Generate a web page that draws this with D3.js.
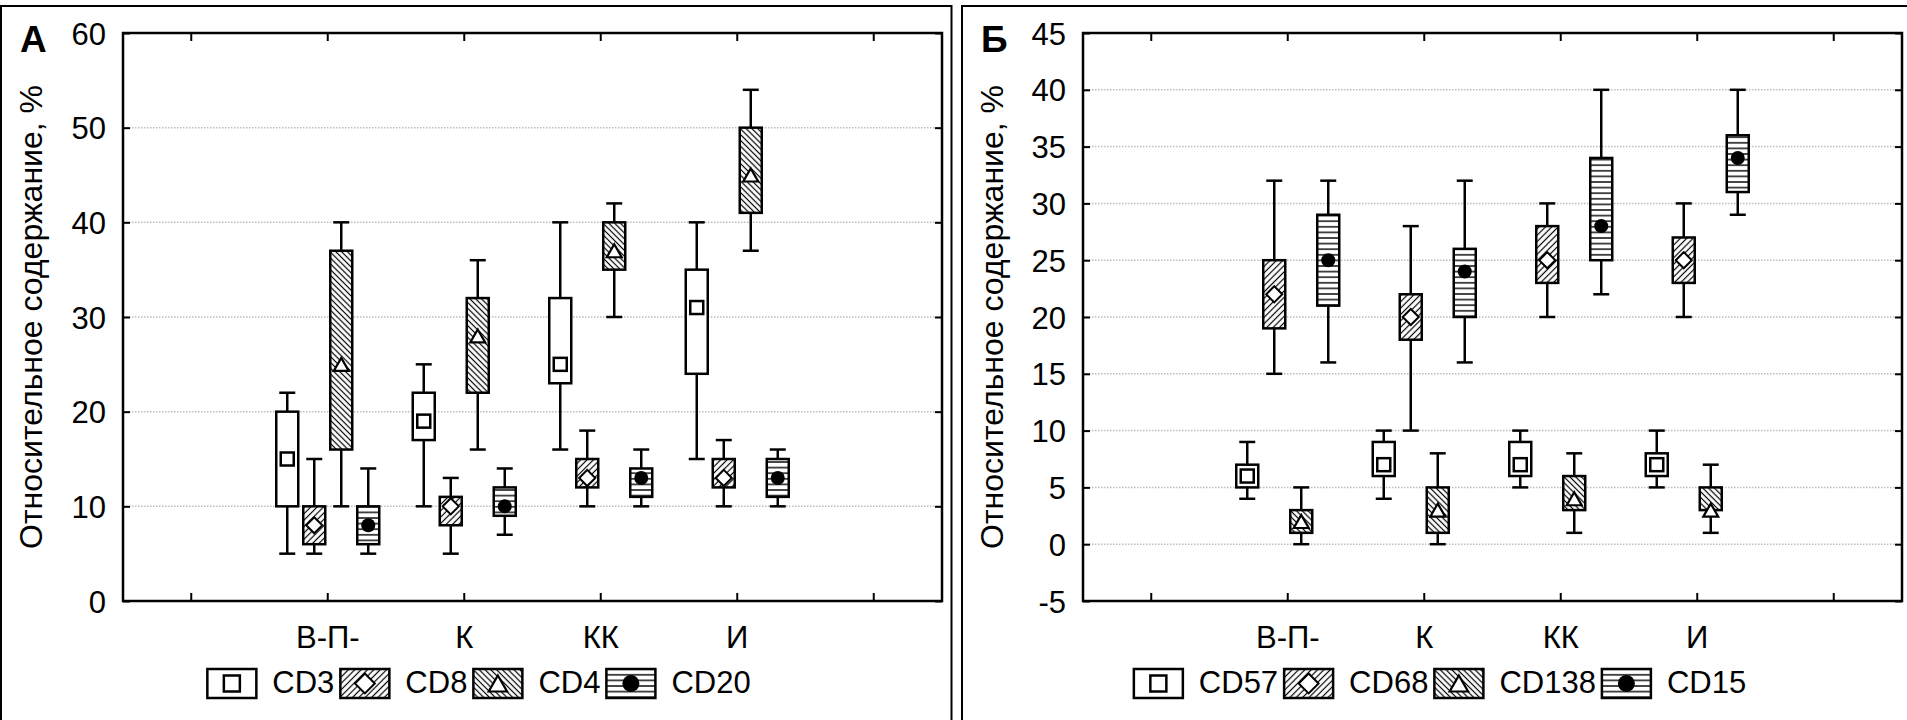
<!DOCTYPE html>
<html>
<head>
<meta charset="utf-8">
<title>Относительное содержание клеток</title>
<script src="https://cdn.jsdelivr.net/npm/d3@7"></script>
<style>
  body { margin: 0; background: #fff; }
  text { font-family: "Liberation Sans", Arial, sans-serif; fill: #000; }
</style>
</head>
<body>
<svg width="1907" height="720"></svg>
<script>
// groups on the x axis (two empty slots at the ends)
var groups = ["В-П-", "К", "КК", "И"];

// each entry: [min, q1, median, q3, max] for В-П-, К, КК, И
var cd3  = [[5, 10, 15, 20, 22], [10, 17, 19, 22, 25], [16, 23, 25, 32, 40], [15, 24, 31, 35, 40]];
var cd8  = [[5, 6, 8, 10, 15],   [5, 8, 10, 11, 13],   [10, 12, 13, 15, 18], [10, 12, 13, 15, 17]];
var cd4  = [[10, 16, 25, 37, 40], [16, 22, 28, 32, 36], [30, 35, 37, 40, 42], [37, 41, 45, 50, 54]];
var cd20 = [[5, 6, 8, 10, 14],   [7, 9, 10, 12, 14],   [10, 11, 13, 14, 16], [10, 11, 13, 15, 16]];

var cd57  = [[4, 5, 6, 7, 9],      [4, 6, 7, 9, 10],     [5, 6, 7, 9, 10],     [5, 6, 7, 8, 10]];
var cd68  = [[15, 19, 22, 25, 32], [10, 18, 20, 22, 28], [20, 23, 25, 28, 30], [20, 23, 25, 27, 30]];
var cd138 = [[0, 1, 2, 3, 5],      [0, 1, 3, 5, 8],      [1, 3, 4, 6, 8],      [1, 3, 3, 5, 7]];
var cd15  = [[16, 21, 25, 29, 32], [16, 20, 24, 26, 32], [22, 25, 28, 34, 40], [29, 31, 34, 36, 40]];

var ticksA = [0, 10, 20, 30, 40, 50, 60];
var ticksB = [-5, 0, 5, 10, 15, 20, 25, 30, 35, 40, 45];

var yTitle = "Относительное содержание, %";

var panels = [
  { letter: "А", frame: [1, 951.5], left: 123, right: 942, domain: [0, 60], ticks: ticksA, legendCx: 479,
    series: [
      { name: "CD3",  data: cd3,  fill: "#fff",        mark: "square" },
      { name: "CD8",  data: cd8,  fill: "url(#hUp)",   mark: "diamond" },
      { name: "CD4",  data: cd4,  fill: "url(#hDown)", mark: "triangle" },
      { name: "CD20", data: cd20, fill: "url(#hHor)",  mark: "circle" }
    ] },
  { letter: "Б", frame: [962, 1930], left: 1083, right: 1902, domain: [-5, 45], ticks: ticksB, legendCx: 1440,
    series: [
      { name: "CD57",  data: cd57,  fill: "#fff",        mark: "square" },
      { name: "CD68",  data: cd68,  fill: "url(#hUp)",   mark: "diamond" },
      { name: "CD138", data: cd138, fill: "url(#hDown)", mark: "triangle" },
      { name: "CD15",  data: cd15,  fill: "url(#hHor)",  mark: "circle" }
    ] }
];

var svg = d3.select("svg");
var defs = svg.append("defs");
var plotTop = 33, plotBottom = 601, fs = 31;

function hatch(id, angle, gap, w) {
  var p = defs.append("pattern")
      .attr("id", id)
      .attr("patternUnits", "userSpaceOnUse")
      .attr("width", gap).attr("height", gap)
      .attr("patternTransform", "rotate(" + angle + ")");
  p.append("rect").attr("width", gap).attr("height", gap).attr("fill", "#fff");
  p.append("line")
      .attr("x1", 0).attr("x2", gap)
      .attr("y1", gap / 2).attr("y2", gap / 2)
      .attr("stroke", "#000").attr("stroke-width", w);
}
hatch("hUp", -45, 4.5, 1.2);
hatch("hDown", 45, 4.1, 1.2);
hatch("hHor", 0, 5.6, 1.4);

function marker(g, type, cx, cy, s) {
  if (type == "square") {
    g.append("rect").attr("x", cx - s / 2).attr("y", cy - s / 2)
      .attr("width", s).attr("height", s)
      .attr("fill", "#fff").attr("stroke", "#000").attr("stroke-width", 2.5);
  } else if (type == "diamond") {
    var r = s * 0.62;
    g.append("path")
      .attr("d", "M" + cx + "," + (cy - r) + "L" + (cx + r) + "," + cy + "L" + cx + "," + (cy + r) + "L" + (cx - r) + "," + cy + "Z")
      .attr("fill", "#fff").attr("stroke", "#000").attr("stroke-width", 2);
  } else if (type == "triangle") {
    var w = s * 1.15, h = s * 1.0;
    g.append("path")
      .attr("d", "M" + cx + "," + (cy - h / 2) + "L" + (cx + w / 2) + "," + (cy + h / 2) + "L" + (cx - w / 2) + "," + (cy + h / 2) + "Z")
      .attr("fill", "#fff").attr("stroke", "#000").attr("stroke-width", 2.2);
  } else {
    g.append("circle").attr("cx", cx).attr("cy", cy).attr("r", s / 2 + 0.5).attr("fill", "#000");
  }
}

panels.forEach(function(p) {
  var g = svg.append("g");

  // panel frame
  g.append("rect")
      .attr("x", p.frame[0]).attr("y", 6)
      .attr("width", p.frame[1] - p.frame[0]).attr("height", 760)
      .attr("fill", "none").attr("stroke", "#000").attr("stroke-width", 2);

  var slots = ["_l"].concat(groups, ["_r"]);
  var x = d3.scaleBand().domain(slots).range([p.left, p.right]);
  var y = d3.scaleLinear().domain(p.domain).range([plotBottom, plotTop]);
  var names = p.series.map(function(s) { return s.name; });
  var sub = d3.scaleBand().domain(names).range([-54, 54]);

  // grid lines
  g.append("g").selectAll("line")
    .data(p.ticks.slice(1, -1))
    .enter().append("line")
      .attr("x1", p.left).attr("x2", p.right)
      .attr("y1", function(d) { return y(d); })
      .attr("y2", function(d) { return y(d); })
      .attr("stroke", "#bdbdbd").attr("stroke-width", 1.5)
      .attr("stroke-dasharray", "1.5,1.5");

  // axes, ticks inside
  var ay = g.append("g")
      .attr("transform", "translate(" + p.left + ",0)")
      .call(d3.axisLeft(y).tickValues(p.ticks).tickSizeInner(-7).tickSizeOuter(0).tickPadding(17)
        .tickFormat(function(d) { return String(d); }));
  ay.select(".domain").remove();
  ay.selectAll("line").attr("stroke-width", 2);
  ay.selectAll("text").attr("font-size", fs).attr("font-family", null).attr("dy", "0.36em");

  var ar = g.append("g")
      .attr("transform", "translate(" + p.right + ",0)")
      .call(d3.axisRight(y).tickValues(p.ticks).tickSizeInner(-7).tickSizeOuter(0).tickFormat(""));
  ar.select(".domain").remove();
  ar.selectAll("line").attr("stroke-width", 2);

  var ab = g.append("g")
      .attr("transform", "translate(0," + plotBottom + ")")
      .call(d3.axisBottom(x).tickSizeInner(-8).tickSizeOuter(0).tickPadding(25)
        .tickFormat(function(d) { return d.charAt(0) == "_" ? "" : d; }));
  ab.select(".domain").remove();
  ab.selectAll("line").attr("stroke-width", 2);
  ab.selectAll("text").attr("font-size", fs).attr("font-family", null);

  var at = g.append("g")
      .attr("transform", "translate(0," + plotTop + ")")
      .call(d3.axisTop(x).tickSizeInner(-8).tickSizeOuter(0).tickFormat(""));
  at.select(".domain").remove();
  at.selectAll("line").attr("stroke-width", 2);

  // plot border
  g.append("rect")
      .attr("x", p.left).attr("y", plotTop)
      .attr("width", p.right - p.left).attr("height", plotBottom - plotTop)
      .attr("fill", "none").attr("stroke", "#000").attr("stroke-width", 2.5);

  // boxes
  var bw = 22, cap = 16;
  p.series.forEach(function(s) {
    s.data.forEach(function(v, i) {
      var cx = x(groups[i]) + x.bandwidth() / 2 + sub(s.name) + sub.bandwidth() / 2;
      var b = g.append("g");
      b.append("line").attr("x1", cx).attr("x2", cx)
        .attr("y1", y(v[0])).attr("y2", y(v[4]))
        .attr("stroke", "#000").attr("stroke-width", 2.5);
      [v[0], v[4]].forEach(function(e) {
        b.append("line").attr("x1", cx - cap / 2).attr("x2", cx + cap / 2)
          .attr("y1", y(e)).attr("y2", y(e))
          .attr("stroke", "#000").attr("stroke-width", 2.5);
      });
      b.append("rect")
        .attr("x", cx - bw / 2).attr("width", bw)
        .attr("y", y(v[3])).attr("height", y(v[1]) - y(v[3]))
        .attr("fill", s.fill).attr("stroke", "#000").attr("stroke-width", 2.5);
      marker(b, s.mark, cx, y(v[2]), 13);
    });
  });

  // y title and panel letter
  g.append("text")
      .attr("transform", "translate(" + (p.frame[0] + 41) + "," + ((plotTop + plotBottom) / 2) + ") rotate(-90)")
      .attr("text-anchor", "middle")
      .attr("font-size", 32)
      .text(yTitle);
  g.append("text")
      .attr("x", p.frame[0] + 19).attr("y", 52)
      .attr("font-size", 37).attr("font-weight", "bold")
      .text(p.letter);

  // legend
  var lg = g.append("g");
  var cur = 0;
  p.series.forEach(function(s) {
    var it = lg.append("g").attr("transform", "translate(" + cur + ",0)");
    it.append("rect").attr("x", 0).attr("y", 669).attr("width", 49).attr("height", 29)
      .attr("fill", s.fill).attr("stroke", "#000").attr("stroke-width", 2.5);
    marker(it, s.mark, 24.5, 683.5, 16);
    var t = it.append("text").attr("x", 65).attr("y", 693).attr("font-size", fs).text(s.name);
    cur += 65 + t.node().getComputedTextLength() + 6;
  });
  lg.attr("transform", "translate(" + (p.legendCx - (cur - 6) / 2) + ",0)");
});
</script>
</body>
</html>
